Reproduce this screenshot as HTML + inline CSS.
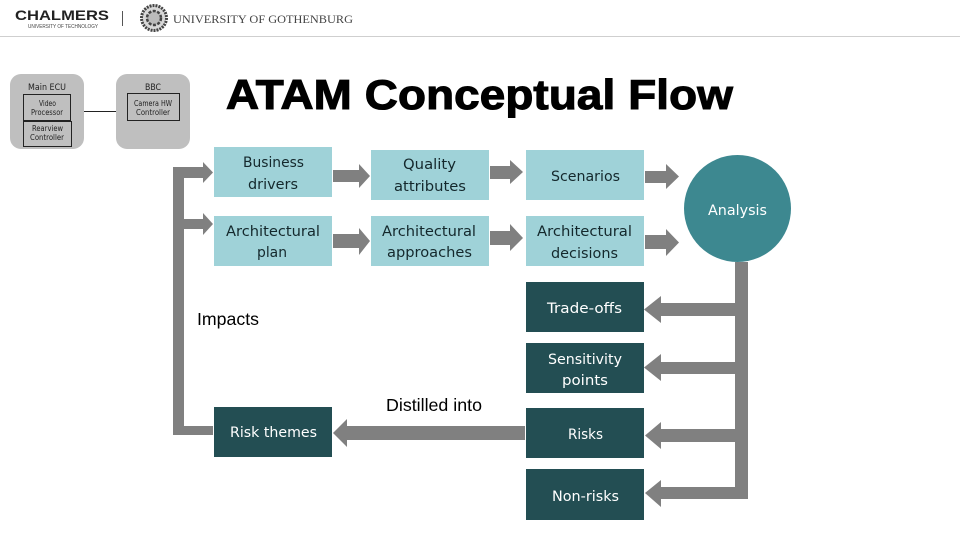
<!DOCTYPE html>
<html><head><meta charset="utf-8"><title>ATAM Conceptual Flow</title>
<style>html,body{margin:0;padding:0;background:#fff}svg{display:block}
.t{font-family:"DejaVu Sans",sans-serif;font-size:14.5px;fill:#14282c}
.w{font-family:"DejaVu Sans",sans-serif;font-size:14.5px;fill:#fff}
.k{font-family:"Liberation Sans",sans-serif;font-size:17.5px;fill:#000}
.s{font-family:"DejaVu Sans",sans-serif;font-size:7.5px;fill:#222}</style></head>
<body>
<svg width="960" height="540" viewBox="0 0 960 540" xmlns="http://www.w3.org/2000/svg">
<rect width="960" height="540" fill="#fff"/>
<!-- header -->
<text x="15" y="20" font-family="Liberation Sans,sans-serif" font-weight="bold" font-size="14" textLength="94" lengthAdjust="spacingAndGlyphs" fill="#222">CHALMERS</text>
<text x="28" y="28" font-family="Liberation Sans,sans-serif" font-size="5" textLength="70" lengthAdjust="spacingAndGlyphs" fill="#444">UNIVERSITY OF TECHNOLOGY</text>
<rect x="122" y="11" width="1" height="15" fill="#555"/>
<circle cx="154" cy="18" r="12.5" fill="#d8d8d8" stroke="#444" stroke-width="3" stroke-dasharray="2 1"/>
<circle cx="154" cy="18" r="7" fill="#bbb" stroke="#444" stroke-width="2.5" stroke-dasharray="3 1.5"/>
<text x="173" y="23" font-family="Liberation Serif,serif" font-size="11.5" textLength="180" lengthAdjust="spacingAndGlyphs" fill="#444">UNIVERSITY OF GOTHENBURG</text>
<rect x="0" y="36" width="960" height="1" fill="#cfcfcf"/>
<!-- ECU blocks -->
<rect x="10" y="74" width="74" height="75" rx="11" fill="#bfbfbf"/>
<rect x="116" y="74" width="74" height="75" rx="11" fill="#bfbfbf"/>
<rect x="84" y="111" width="32" height="1" fill="#222"/>
<rect x="23.500" y="94.500" width="47" height="26" fill="none" stroke="#222"/>
<rect x="23.500" y="121.500" width="48" height="25" fill="none" stroke="#222"/>
<rect x="127.500" y="93.500" width="52" height="27" fill="none" stroke="#222"/>
<text class="s" x="28" y="90" textLength="38" lengthAdjust="spacingAndGlyphs" style="font-size:8.500px">Main ECU</text>
<text class="s" x="145" y="90" textLength="16" lengthAdjust="spacingAndGlyphs" style="font-size:8.500px">BBC</text>
<text class="s" x="39" y="106" textLength="17" lengthAdjust="spacingAndGlyphs">Video</text>
<text class="s" x="31" y="115" textLength="32" lengthAdjust="spacingAndGlyphs">Processor</text>
<text class="s" x="32" y="131" textLength="31" lengthAdjust="spacingAndGlyphs">Rearview</text>
<text class="s" x="30" y="140" textLength="34" lengthAdjust="spacingAndGlyphs">Controller</text>
<text class="s" x="134" y="106" textLength="38" lengthAdjust="spacingAndGlyphs">Camera HW</text>
<text class="s" x="136" y="115" textLength="34" lengthAdjust="spacingAndGlyphs">Controller</text>
<!-- title -->
<text transform="translate(226 109) scale(1.09 1)" x="0" y="0" font-family="Liberation Sans,sans-serif" font-weight="bold" font-size="42" textLength="465" fill="#000" stroke="#000" stroke-width="1.100">ATAM Conceptual Flow</text>
<!-- connectors -->
<g fill="#808080">
<path d="M173 167H203V162L213 172.500L203 183V178H184V219H203V213L213 224L203 235V229H184V426H213V435H173Z"/>
<path d="M333 170H359V164L370 176L359 188V182H333Z"/>
<path d="M333 234H359V228L370 241L359 255V248H333Z"/>
<path d="M490 166H510V160L523 172L510 184V179H490Z"/>
<path d="M490 231H510V224L523 238L510 251V245H490Z"/>
<path d="M645 171H666V164L679 176.500L666 189V183H645Z"/>
<path d="M645 235H666V229L679 242.500L666 256V249H645Z"/>
<path d="M735 262H748V499H661V507L645 493L661 480V487H735V442H661V449L645 435.500L661 422V429H735V374H661V381L644 367.500L661 354V362H735V316H661V323L644 309.500L661 296V303H735Z"/>
<path d="M525 426V440H347V447L333 433L347 419V426Z"/>
</g>
<!-- light boxes -->
<g fill="#9fd2d8">
<rect x="214" y="147" width="118" height="50"/>
<rect x="371" y="150" width="118" height="50"/>
<rect x="526" y="150" width="118" height="50"/>
<rect x="214" y="216" width="118" height="50"/>
<rect x="371" y="216" width="118" height="50"/>
<rect x="526" y="216" width="118" height="50"/>
</g>
<!-- dark boxes -->
<g fill="#234e53">
<rect x="526" y="282" width="118" height="50"/>
<rect x="526" y="343" width="118" height="50"/>
<rect x="526" y="408" width="118" height="50"/>
<rect x="526" y="469" width="118" height="51"/>
<rect x="214" y="407" width="118" height="50"/>
</g>
<circle cx="737.500" cy="208.500" r="53.500" fill="#3d8890"/>
<!-- labels -->
<text class="t" x="243" y="167" textLength="61" lengthAdjust="spacingAndGlyphs">Business</text>
<text class="t" x="248" y="189" textLength="50" lengthAdjust="spacingAndGlyphs">drivers</text>
<text class="t" x="403" y="169" textLength="53" lengthAdjust="spacingAndGlyphs">Quality</text>
<text class="t" x="394" y="191" textLength="72" lengthAdjust="spacingAndGlyphs">attributes</text>
<text class="t" x="551" y="181" textLength="69" lengthAdjust="spacingAndGlyphs">Scenarios</text>
<text class="t" x="226" y="236" textLength="94" lengthAdjust="spacingAndGlyphs">Architectural</text>
<text class="t" x="257" y="257" textLength="30" lengthAdjust="spacingAndGlyphs">plan</text>
<text class="t" x="382" y="236" textLength="94" lengthAdjust="spacingAndGlyphs">Architectural</text>
<text class="t" x="387" y="257" textLength="85" lengthAdjust="spacingAndGlyphs">approaches</text>
<text class="t" x="537" y="236" textLength="95" lengthAdjust="spacingAndGlyphs">Architectural</text>
<text class="t" x="551" y="258" textLength="67" lengthAdjust="spacingAndGlyphs">decisions</text>
<text class="w" x="708" y="215" textLength="59" lengthAdjust="spacingAndGlyphs">Analysis</text>
<text class="w" x="547" y="313" textLength="75" lengthAdjust="spacingAndGlyphs">Trade-offs</text>
<text class="w" x="548" y="364" textLength="74" lengthAdjust="spacingAndGlyphs">Sensitivity</text>
<text class="w" x="562" y="385" textLength="46" lengthAdjust="spacingAndGlyphs">points</text>
<text class="w" x="568" y="439" textLength="35" lengthAdjust="spacingAndGlyphs">Risks</text>
<text class="w" x="552" y="501" textLength="67" lengthAdjust="spacingAndGlyphs">Non-risks</text>
<text class="w" x="230" y="437" textLength="87" lengthAdjust="spacingAndGlyphs">Risk themes</text>
<text class="k" x="197" y="325" textLength="62" lengthAdjust="spacingAndGlyphs">Impacts</text>
<text class="k" x="386" y="411" textLength="96" lengthAdjust="spacingAndGlyphs">Distilled into</text>
</svg>
</body></html>
